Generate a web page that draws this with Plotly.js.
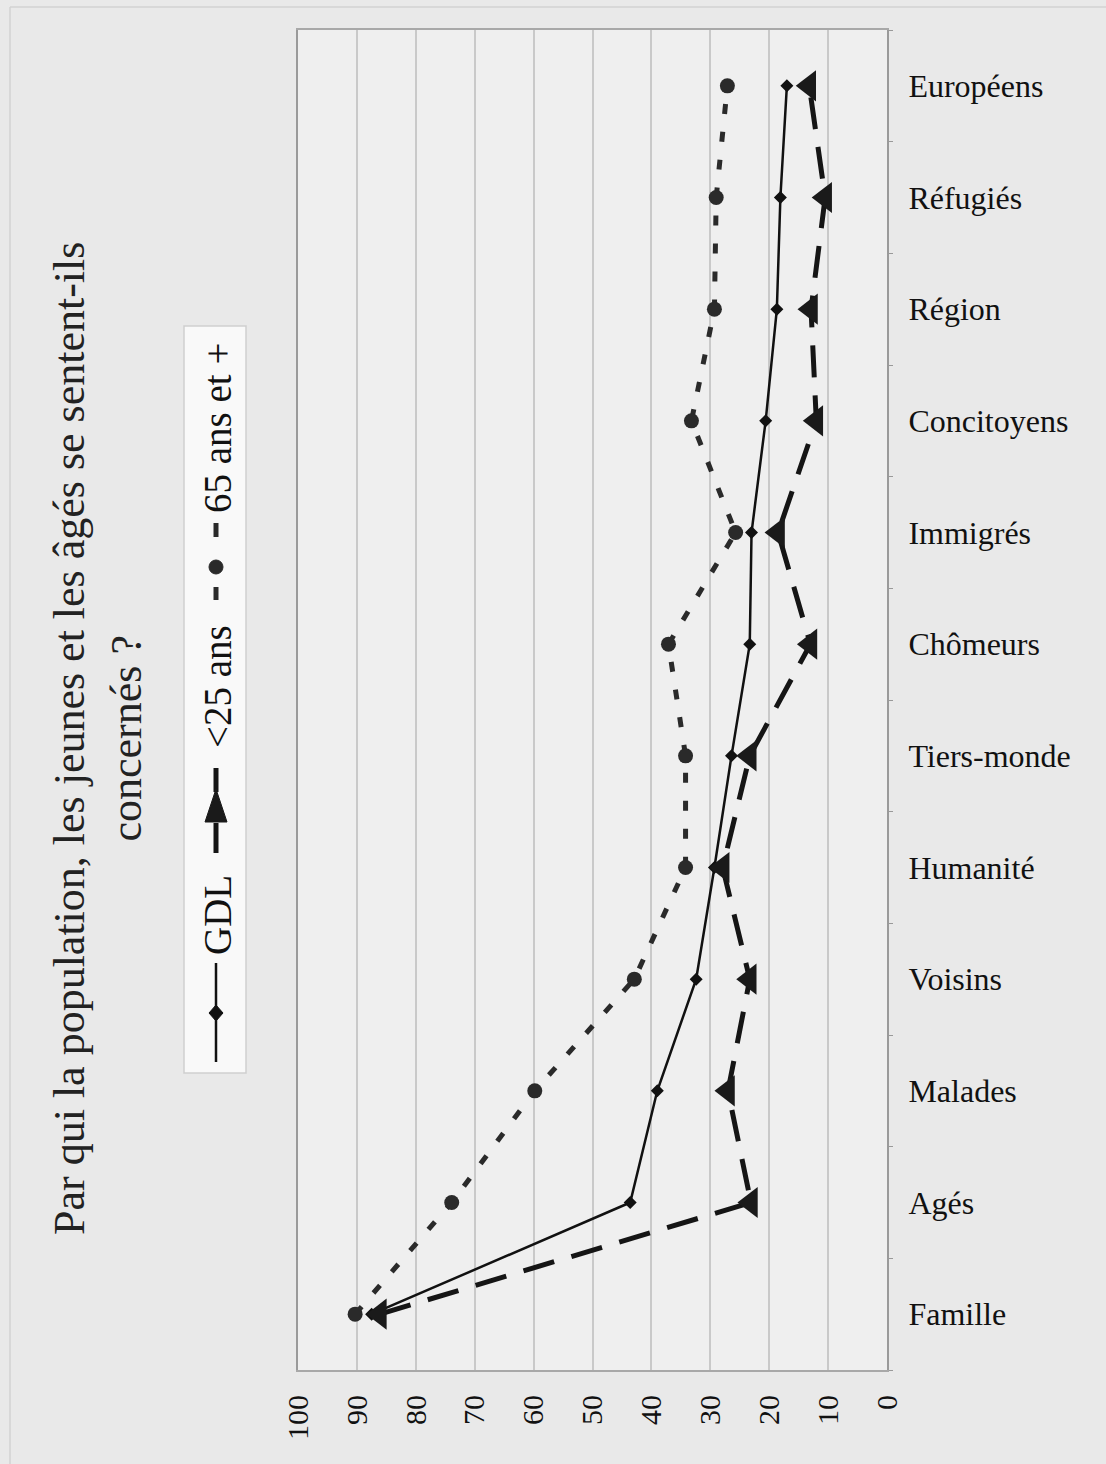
<!DOCTYPE html>
<html>
<head>
<meta charset="utf-8">
<script src="https://cdn.plot.ly/plotly-3.0.1.min.js"></script>
<style>
  html, body { margin: 0; padding: 0; background: #e9e9e9; }
  #chart { width: 1106px; height: 1464px; }
</style>
</head>
<body>
<div id="chart"></div>
<script>
// Groups the population feels concerned about (bottom to top)
const categories = ['Famille', 'Agés', 'Malades', 'Voisins', 'Humanité', 'Tiers-monde',
                    'Chômeurs', 'Immigrés', 'Concitoyens', 'Région', 'Réfugiés', 'Européens'];

// Share concerned (%), whole population
const gdl      = [87.5, 43.6, 39.0, 32.4, 29.3, 26.4, 23.3, 23.0, 20.6, 18.7, 18.1, 17.0];
// Share concerned (%), under 25
const moins25  = [86.1, 23.1, 27.0, 23.3, 27.9, 23.3, 13.0, 18.5, 12.0, 12.9, 10.5, 13.2];
// Share concerned (%), 65 and over
const plus65   = [90.3, 73.9, 59.8, 42.9, 34.2, 34.2, 37.1, 25.7, 33.2, 29.3, 29.0, 27.1];

const seriesNames = ['GDL', '<25 ans', '65 ans et +'];
const valueTicks  = [0, 10, 20, 30, 40, 50, 60, 70, 80, 90, 100];
const titleText   = 'Par qui la population, les jeunes et les âgés se sentent-ils<br>concernés ?';

// Page geometry (pixels)
const W = 1106, H = 1464;
const PL = 298, PR = 887, PT = 30, PB = 1370;
const px2x = p => (p - PL) / (PR - PL);
const py2y = p => (PB - p) / (PB - PT);

const serif = '"Liberation Serif"';

const traces = [
  {
    type: 'scatter', mode: 'lines+markers', name: seriesNames[0],
    y: categories, x: gdl,
    line: { color: '#111', width: 2.5 },
    marker: { symbol: 'diamond', size: 10, color: '#111' }
  },
  {
    type: 'scatter', mode: 'lines+markers', name: seriesNames[1],
    y: categories, x: moins25,
    line: { color: '#151515', width: 5, dash: '32px,18px' },
    marker: { symbol: 'triangle-left', size: 27, color: '#1a1a1a' }
  },
  {
    type: 'scatter', mode: 'lines+markers', name: seriesNames[2],
    y: categories, x: plus65,
    line: { color: '#2a2a2a', width: 5, dash: '10px,18px' },
    marker: { symbol: 'circle', size: 15, color: '#2a2a2a' }
  }
];

// Hand-built legend, rotated like the rest of the page
const LX = 216;
const shapes = [
  // outer frame (top and left edges)
  { type: 'line', xref: 'paper', yref: 'paper', x0: px2x(10), x1: px2x(1106), y0: py2y(7), y1: py2y(7),
    line: { color: '#d2d2d2', width: 1.5 } },
  { type: 'line', xref: 'paper', yref: 'paper', x0: px2x(10), x1: px2x(10), y0: py2y(7), y1: py2y(1464),
    line: { color: '#d2d2d2', width: 1.5 } },
  // legend box
  { type: 'rect', xref: 'paper', yref: 'paper', x0: px2x(184), x1: px2x(246), y0: py2y(1073), y1: py2y(326),
    fillcolor: '#f9f9f9', line: { color: '#cfcfcf', width: 1.5 }, layer: 'above' },
  // GDL sample
  { type: 'line', xref: 'paper', yref: 'paper', x0: px2x(LX), x1: px2x(LX), y0: py2y(963), y1: py2y(1062),
    line: { color: '#111', width: 2.5 }, layer: 'above' },
  { type: 'path', xref: 'paper', yref: 'paper', layer: 'above', fillcolor: '#111', line: { color: '#111', width: 1 },
    path: `M${px2x(LX)},${py2y(1005)} L${px2x(LX + 7)},${py2y(1013)} L${px2x(LX)},${py2y(1021)} L${px2x(LX - 7)},${py2y(1013)} Z` },
  // <25 ans sample
  { type: 'line', xref: 'paper', yref: 'paper', x0: px2x(LX), x1: px2x(LX), y0: py2y(768), y1: py2y(792),
    line: { color: '#151515', width: 5 }, layer: 'above' },
  { type: 'line', xref: 'paper', yref: 'paper', x0: px2x(LX), x1: px2x(LX), y0: py2y(823), y1: py2y(853),
    line: { color: '#151515', width: 5 }, layer: 'above' },
  { type: 'path', xref: 'paper', yref: 'paper', layer: 'above', fillcolor: '#1a1a1a', line: { color: '#1a1a1a', width: 1 },
    path: `M${px2x(LX)},${py2y(789)} L${px2x(LX + 11)},${py2y(822)} L${px2x(LX - 11)},${py2y(822)} Z` },
  // 65 ans et + sample
  { type: 'line', xref: 'paper', yref: 'paper', x0: px2x(LX), x1: px2x(LX), y0: py2y(523), y1: py2y(537),
    line: { color: '#2a2a2a', width: 5 }, layer: 'above' },
  { type: 'line', xref: 'paper', yref: 'paper', x0: px2x(LX), x1: px2x(LX), y0: py2y(587), y1: py2y(600),
    line: { color: '#2a2a2a', width: 5 }, layer: 'above' },
  { type: 'circle', xref: 'paper', yref: 'paper', layer: 'above', fillcolor: '#2a2a2a', line: { color: '#2a2a2a', width: 1 },
    x0: px2x(LX - 7), x1: px2x(LX + 7), y0: py2y(574), y1: py2y(560) }
];

const legendText = (txt, cy) => ({
  xref: 'paper', yref: 'paper', x: px2x(LX + 1), y: py2y(cy), xanchor: 'center', yanchor: 'middle',
  text: txt, showarrow: false, textangle: -90,
  font: { family: serif, size: 39, color: '#111' }
});

const annotations = [
  {
    xref: 'paper', yref: 'paper', x: px2x(98), y: py2y(739), xanchor: 'center', yanchor: 'middle',
    text: titleText, showarrow: false, textangle: -90,
    font: { family: serif, size: 44, color: '#222' }
  },
  legendText(seriesNames[0], 915),
  legendText('&lt;25 ans', 687),
  legendText(seriesNames[2], 428)
];

const layout = {
  width: W, height: H,
  margin: { l: PL, r: W - PR, t: PT, b: H - PB, pad: 0 },
  paper_bgcolor: '#e9e9e9',
  plot_bgcolor: '#efefef',
  showlegend: false,
  font: { family: serif, color: '#111' },
  xaxis: {
    range: [100, 0],
    tickvals: valueTicks,
    ticktext: valueTicks.map(String),
    tickangle: -90,
    ticks: '',
    ticklabelstandoff: 11,
    tickfont: { family: serif, size: 30, color: '#111' },
    showgrid: true, gridcolor: '#c9c9c9', gridwidth: 2,
    zeroline: false,
    showline: true, linecolor: '#a8a8a8', linewidth: 2, mirror: true,
    fixedrange: true
  },
  yaxis: {
    type: 'category',
    categoryorder: 'array', categoryarray: categories,
    range: [-0.5, categories.length - 0.5],
    side: 'right',
    ticks: 'outside', tickson: 'boundaries', ticklen: 4, tickcolor: '#999',
    ticklabelstandoff: 13,
    tickfont: { family: serif, size: 32, color: '#111' },
    showgrid: false, zeroline: false,
    showline: true, linecolor: '#9a9a9a', linewidth: 2, mirror: true,
    fixedrange: true
  },
  shapes: shapes,
  annotations: annotations
};

Plotly.newPlot('chart', traces, layout, { staticPlot: true, displayModeBar: false });
</script>
</body>
</html>
